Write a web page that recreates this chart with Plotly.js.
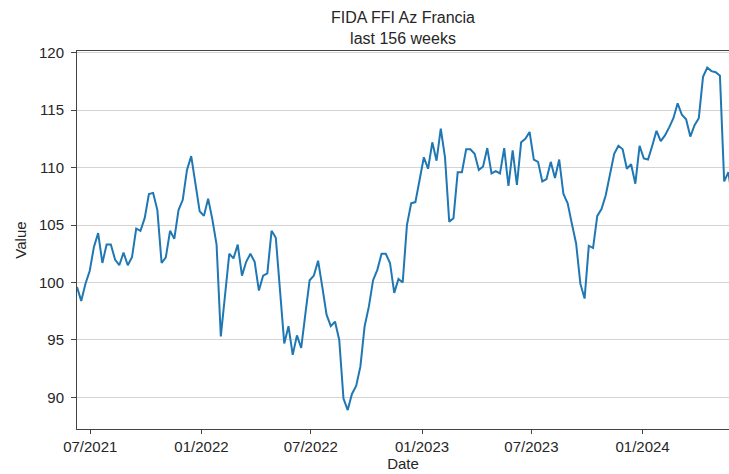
<!DOCTYPE html>
<html>
<head>
<meta charset="utf-8">
<script src="https://cdn.plot.ly/plotly-3.0.1.min.js"></script>
<style>html,body{margin:0;padding:0;background:#fff;}#chart{width:729px;height:474px;}</style>
</head>
<body>
<div id="chart"></div>
<script>
// Weekly observations, first week and count
const startDate = '2021-06-09';
const nWeeks = 156;
// Values (weekly)
const values = [
  99.6, 98.4, 99.9, 101.0, 103.1, 104.3, 101.7, 103.3, 103.3, 102.0,
  101.5, 102.6, 101.5, 102.2, 104.7, 104.5, 105.6, 107.7, 107.8, 106.3,
  101.7, 102.2, 104.5, 103.8, 106.3, 107.2, 109.8, 111.0, 108.6, 106.2,
  105.8, 107.3, 105.5, 103.3, 95.3, 99.0, 102.5, 102.1, 103.3, 100.6,
  101.8, 102.5, 101.8, 99.3, 100.6, 100.8, 104.5, 103.9, 99.6, 94.7,
  96.2, 93.7, 95.4, 94.3, 97.3, 100.2, 100.6, 101.9, 99.6, 97.2,
  96.2, 96.6, 95.0, 89.9, 88.9, 90.3, 91.0, 92.7, 96.2, 97.9,
  100.2, 101.1, 102.5, 102.5, 101.7, 99.1, 100.3, 100.0, 105.0, 106.9,
  107.0, 108.8, 110.9, 109.9, 112.2, 110.6, 113.4, 110.9, 105.3, 105.6,
  109.6, 109.6, 111.6, 111.6, 111.2, 109.8, 110.1, 111.7, 109.5, 109.7,
  109.5, 111.7, 108.4, 111.5, 108.5, 112.2, 112.5, 113.1, 110.7, 110.5,
  108.8, 109.0, 110.5, 109.1, 110.7, 107.7, 106.9, 105.1, 103.4, 99.9,
  98.6, 103.2, 103.0, 105.8, 106.4, 107.6, 109.3, 111.2, 111.9, 111.6,
  109.9, 110.3, 108.6, 111.9, 110.8, 110.7, 111.9, 113.2, 112.3, 112.8,
  113.5, 114.3, 115.6, 114.6, 114.2, 112.7, 113.7, 114.3, 117.9, 118.7,
  118.4, 118.3, 118.0, 108.8, 109.6, 107.0
];
const xTickVals = ['2021-07-01', '2022-01-01', '2022-07-01', '2023-01-01', '2023-07-01', '2024-01-01'];
const xTickText = ['07/2021', '01/2022', '07/2022', '01/2023', '07/2023', '01/2024'];
const yTickVals = [90, 95, 100, 105, 110, 115, 120];

function isoDay(d) { return d.toISOString().slice(0, 10); }
const dates = [];
const d0 = new Date(startDate + 'T00:00:00Z');
for (let i = 0; i < nWeeks; i++) {
  const d = new Date(d0.getTime() + i * 7 * 86400000);
  dates.push(isoDay(d));
}

const font = 'Liberation Sans, Arial, sans-serif';
const trace = {
  x: dates, y: values, type: 'scatter', mode: 'lines',
  line: {color: '#1f77b4', width: 2}, hoverinfo: 'skip'
};
const layout = {
  width: 729, height: 474,
  margin: {l: 77, r: 0, t: 51, b: 45},
  paper_bgcolor: '#ffffff', plot_bgcolor: '#ffffff',
  showlegend: false,
  title: {
    text: 'FIDA FFI Az Francia<br>last 156 weeks',
    font: {family: font, size: 16, color: '#262626'},
    x: 0.5, xanchor: 'center', xref: 'paper',
    y: 0.9515, yanchor: 'top', yref: 'container'
  },
  xaxis: {
    type: 'date',
    range: [startDate, '2024-05-23'],
    tickvals: xTickVals, ticktext: xTickText,
    showgrid: false, zeroline: false,
    showline: true, linecolor: '#444', linewidth: 1, mirror: true,
    ticks: 'outside', ticklen: 4, tickcolor: '#444', tickwidth: 1,
    tickfont: {family: font, size: 15, color: '#262626'},
    title: {text: 'Date', font: {family: font, size: 15, color: '#262626'}, standoff: 4}
  },
  yaxis: {
    range: [87.25, 120.15],
    tickvals: yTickVals,
    showgrid: true, gridcolor: '#d4d4d4', gridwidth: 1,
    zeroline: false,
    showline: true, linecolor: '#444', linewidth: 1, mirror: false,
    ticks: 'outside', ticklen: 5, tickcolor: '#444', tickwidth: 1,
    ticklabelstandoff: 4,
    tickfont: {family: font, size: 15, color: '#262626'},
    title: {text: 'Value', font: {family: font, size: 15, color: '#262626'}, standoff: 8}
  }
};
Plotly.newPlot('chart', [trace], layout, {staticPlot: true, displayModeBar: false});
</script>
</body>
</html>
